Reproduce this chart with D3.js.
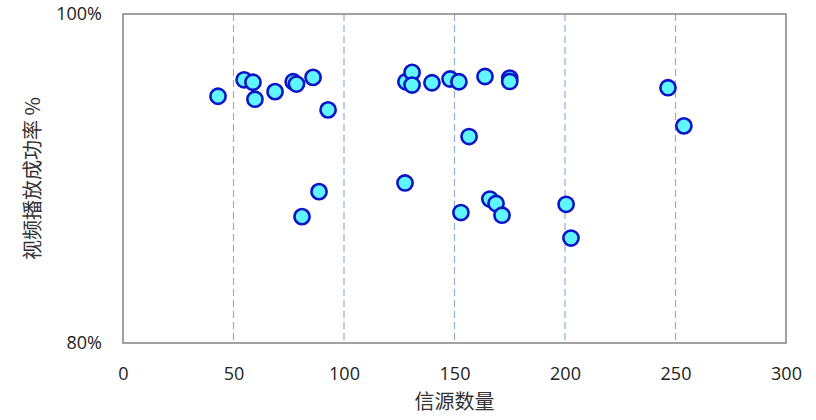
<!DOCTYPE html>
<html><head><meta charset="utf-8">
<script src="https://cdn.jsdelivr.net/npm/d3@7"></script>
<style>body{margin:0;background:#fff;} svg{display:block;}</style>
</head><body>
<svg id="c" width="816" height="420"></svg>
<script>
const sourceCount = [43, 54.8, 58.8, 59.7, 68.8, 77, 78.5, 86, 92.8, 128, 130.8, 130.8, 139.8, 148, 152, 163.8, 175, 175, 156.6, 246.6, 253.8, 127.6, 88.7, 81, 152.9, 166, 168.8, 171.5, 200.5, 202.7];
const successRate = [95.0, 96.0, 95.85, 94.82, 95.28, 95.88, 95.74, 96.15, 94.17, 95.88, 96.45, 95.68, 95.82, 96.05, 95.88, 96.2, 96.1, 95.9, 92.55, 95.52, 93.2, 89.73, 89.2, 87.68, 87.93, 88.75, 88.48, 87.77, 88.43, 86.38];
const xTicks = [0, 50, 100, 150, 200, 250, 300];
const yTicks = [80, 100];
const xLabel = "信源数量";
const yLabel = "视频播放成功率 %";

const svg = d3.select("#c");
const L = 123, R = 786, T = 14, B = 343;
const x = d3.scaleLinear().domain([0, 300]).range([L, R]);
const y = d3.scaleLinear().domain([80, 100]).range([B, T]);

// gridlines
svg.append("g").selectAll("line").data(xTicks.filter(d => d > 0 && d < 300)).join("line")
  .attr("x1", d => x(d)).attr("x2", d => x(d)).attr("y1", T).attr("y2", B)
  .attr("stroke", "#8eaed6").attr("stroke-width", 1.2).attr("stroke-dasharray", "7,4");

// frame
svg.append("rect").attr("x", L).attr("y", T).attr("width", R - L).attr("height", B - T)
  .attr("fill", "none").attr("stroke", "#8a8a8a").attr("stroke-width", 1.6);

// x axis
const xAxis = d3.axisBottom(x).tickValues(xTicks).tickSize(0).tickPadding(24).tickFormat(d3.format("d"));
const gx = svg.append("g").attr("transform", `translate(0,${B})`).call(xAxis);
gx.select(".domain").remove();
gx.selectAll("text").attr("font-family", "Open Sans, sans-serif").attr("font-size", 18).attr("fill", "#222");

const yAxis = d3.axisLeft(y).tickValues(yTicks).tickSize(0).tickPadding(21).tickFormat(d => d + "%");
const gy = svg.append("g").attr("transform", `translate(${L},0)`).call(yAxis);
gy.select(".domain").remove();
gy.selectAll("text").attr("font-family", "Open Sans, sans-serif").attr("font-size", 18).attr("fill", "#222");

// points
svg.append("g").selectAll("circle").data(sourceCount.map((d, i) => [d, successRate[i]])).join("circle")
  .attr("cx", d => x(d[0])).attr("cy", d => y(d[1])).attr("r", 7.6)
  .attr("fill", "#5ff6ff").attr("stroke", "#0a14c8").attr("stroke-width", 2.6);

// labels
svg.append("text").attr("x", (L + R) / 2).attr("y", 409).attr("text-anchor", "middle")
  .attr("font-family", "Noto Sans CJK SC, sans-serif").attr("font-size", 20).attr("fill", "#333").text(xLabel);
svg.append("text").attr("transform", `translate(40,${(T + B) / 2}) rotate(-90)`).attr("text-anchor", "middle")
  .attr("font-family", "Noto Sans CJK SC, sans-serif").attr("font-size", 20).attr("fill", "#333").text(yLabel);
</script>
</body></html>
